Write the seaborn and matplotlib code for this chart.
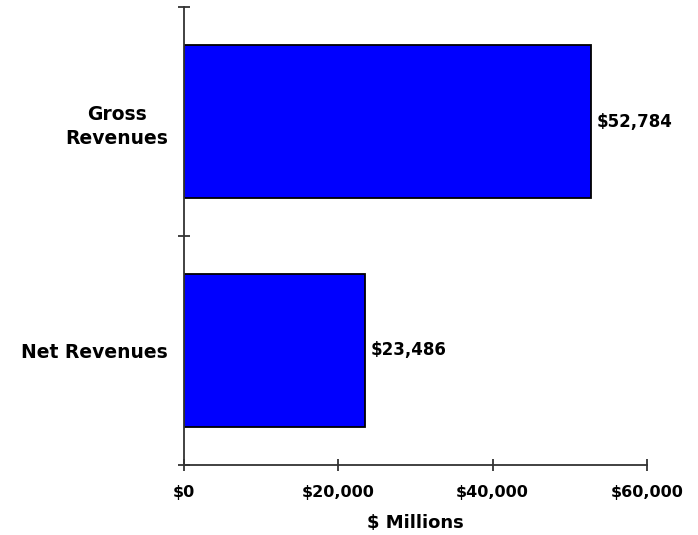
import matplotlib
matplotlib.use("Agg")
import matplotlib.pyplot as plt
import seaborn as sns
import pandas as pd

categories = ["Gross\nRevenues", "Net Revenues"]
values = [52784, 23486]
value_labels = ["$52,784", "$23,486"]
x_ticks = [0, 20000, 40000, 60000]
x_tick_labels = ["$0", "$20,000", "$40,000", "$60,000"]

sns.set_theme(style="white")
plt.rcParams["font.family"] = ["DejaVu Sans"]
plt.rcParams["text.color"] = "black"
plt.rcParams["xtick.color"] = "black"
plt.rcParams["ytick.color"] = "black"

df = pd.DataFrame({"category": categories, "value": values})

fig = plt.figure(figsize=(6.98, 5.35), dpi=100)
ax = fig.add_axes([184 / 698, 70 / 535, 463 / 698, 458 / 535])

sns.barplot(data=df, x="value", y="category", orient="h", color="#0000FF",
            saturation=1, width=0.67, edgecolor="black", linewidth=1.3, ax=ax)

ax.set_xlim(0, 60000)
ax.set_ylim(1.5, -0.5)

ax.set_xticks(x_ticks)
ax.set_xticklabels(x_tick_labels, fontsize=11.5, fontweight="bold", color="black")
ax.tick_params(axis="x", which="major", bottom=True, direction="inout", length=9,
               width=1.2, color="#222222", pad=10)

ax.set_yticks([0, 1])
ax.set_yticklabels(categories, fontsize=13.5, fontweight="bold", color="black",
                   ha="right", multialignment="center", linespacing=1.4)
ax.tick_params(axis="y", which="major", left=True, length=0, pad=11.5)
ax.set_yticks([-0.5, 0.5, 1.5], minor=True)
ax.tick_params(axis="y", which="minor", left=True, direction="inout", length=9,
               width=1.2, color="#222222")

ax.set_xlabel("$ Millions", fontsize=13, fontweight="bold", color="black")
ax.xaxis.set_label_coords(0.5, -0.106)
ax.xaxis.label.set_va("top")
ax.set_ylabel("")

for s in ["top", "right"]:
    ax.spines[s].set_visible(False)
for s in ["left", "bottom"]:
    ax.spines[s].set_color("#333333")
    ax.spines[s].set_linewidth(1.3)

for i, (v, lab) in enumerate(zip(values, value_labels)):
    ax.annotate(lab, xy=(v, i), xytext=(4, 0), textcoords="offset points",
                va="center", ha="left", fontsize=12, fontweight="bold", color="black")

fig.savefig("out.png", dpi=100)
